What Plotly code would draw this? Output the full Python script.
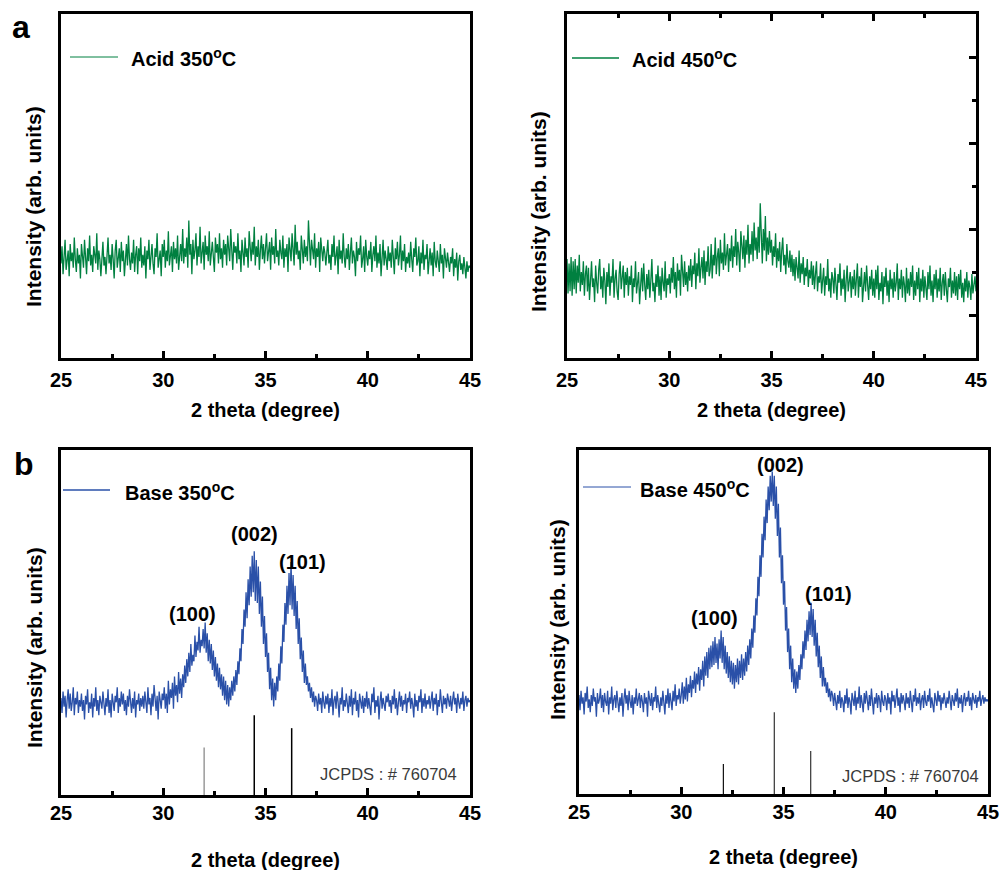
import plotly.graph_objects as go

# ---------------- data (arbitrary intensity units) ----------------
# each series is sampled every 0.05 degree from 25 to 45 (2 theta)
acid_350 = [
    44, 52, 39, 48, 55, 41, 47, 50, 38, 53, 45, 49, 42, 56, 46, 40, 51, 44, 48, 37,
    53, 46, 42, 55, 49, 39, 51, 45, 57, 43, 48, 40, 52, 47, 44, 58, 41, 50, 46, 38,
    49, 54, 43, 47, 39, 52, 56, 44, 48, 41, 53, 46, 37, 50, 55, 42, 47, 51, 40, 54,
    45, 50, 38, 47, 53, 43, 57, 46, 41, 49, 44, 55, 40, 48, 52, 39, 51, 45, 56, 42,
    48, 43, 52, 37, 50, 46, 55, 41, 49, 53, 44, 39, 51, 47, 58, 42, 46, 50, 38, 53,
    47, 55, 42, 50, 45, 59, 43, 48, 52, 40, 54, 46, 51, 44, 57, 41, 49, 53, 45, 60,
    44, 51, 47, 56, 42, 64, 48, 53, 39, 55, 46, 50, 58, 43, 52, 47, 61, 44, 49, 54,
    41, 57, 48, 52, 45, 59, 43, 50, 54, 47, 40, 56, 49, 53, 44, 58, 46, 51, 42, 55,
    48, 53, 43, 57, 50, 45, 60, 47, 41, 54, 49, 52, 44, 58, 46, 50, 40, 55, 48, 43,
    56, 47, 51, 42, 59, 49, 45, 54, 48, 61, 43, 52, 47, 55, 41, 50, 57, 46, 53, 44,
    51, 58, 45, 49, 54, 41, 56, 48, 52, 44, 60, 47, 50, 43, 55, 49, 46, 57, 42, 51,
    47, 53, 40, 56, 49, 45, 58, 51, 43, 62, 48, 54, 46, 50, 41, 57, 49, 44, 55, 47,
    52, 45, 64, 48, 43, 55, 50, 46, 58, 42, 51, 47, 54, 40, 56, 48, 45, 52, 49, 43,
    50, 55, 44, 48, 41, 53, 47, 57, 43, 49, 52, 39, 55, 46, 50, 44, 58, 47, 42, 51,
    46, 53, 41, 49, 56, 44, 50, 47, 38, 54, 45, 51, 48, 57, 42, 46, 52, 40, 55, 47,
    43, 50, 46, 54, 40, 48, 52, 45, 57, 42, 49, 44, 53, 38, 47, 55, 43, 50, 46, 41,
    52, 45, 49, 42, 55, 47, 39, 51, 46, 54, 43, 48, 57, 41, 50, 45, 53, 40, 47, 44,
    49, 42, 54, 46, 40, 51, 47, 56, 43, 45, 52, 38, 49, 44, 55, 41, 48, 46, 53, 39,
    47, 51, 43, 49, 38, 54, 45, 42, 50, 46, 40, 53, 44, 48, 37, 51, 45, 42, 49, 43,
    40, 47, 44, 51, 38, 46, 42, 49, 36, 45, 48, 41, 44, 39, 47, 42, 37, 45, 40, 43,
    42,
]

acid_450 = [
    46, 30, 44, 31, 47, 29, 45, 32, 46, 30, 43, 35, 48, 31, 40, 34, 45, 29, 39, 43,
    31, 42, 27, 39, 45, 33, 37, 26, 43, 35, 30, 41, 46, 32, 38, 28, 42, 36, 25, 40,
    33, 44, 29, 38, 35, 46, 28, 37, 41, 31, 27, 39, 45, 32, 36, 43, 28, 40, 34, 42,
    29, 38, 34, 43, 26, 37, 33, 45, 30, 35, 40, 25, 36, 42, 31, 44, 34, 27, 39, 32,
    41, 28, 36, 46, 31, 35, 26, 39, 33, 43, 29, 38, 27, 42, 35, 31, 45, 28, 37, 34,
    39, 30, 42, 35, 47, 32, 40, 28, 44, 36, 41, 29, 48, 37, 33, 45, 34, 40, 31, 43,
    36, 46, 33, 43, 39, 49, 32, 44, 38, 51, 35, 42, 47, 37, 50, 34, 45, 40, 52, 38,
    41, 53, 37, 48, 43, 56, 39, 47, 51, 38, 55, 44, 49, 41, 58, 43, 47, 53, 40, 51,
    45, 57, 42, 52, 47, 60, 43, 54, 49, 40, 59, 50, 46, 57, 42, 55, 48, 62, 44, 53,
    48, 59, 45, 63, 50, 56, 46, 61, 49, 72, 53, 44, 60, 50, 66, 45, 56, 48, 59, 49,
    55, 43, 52, 47, 58, 42, 51, 45, 54, 40, 50, 56, 43, 48, 39, 53, 45, 42, 50, 40,
    48, 38, 46, 36, 47, 41, 37, 50, 35, 44, 39, 47, 34, 42, 38, 46, 33, 41, 37, 45,
    34, 43, 32, 39, 45, 31, 38, 35, 44, 30, 37, 42, 29, 38, 34, 46, 31, 37, 28, 40,
    37, 30, 42, 33, 27, 39, 35, 44, 29, 37, 32, 41, 26, 36, 43, 31, 35, 40, 28, 38,
    32, 41, 29, 36, 44, 28, 38, 33, 42, 26, 35, 40, 31, 43, 34, 27, 38, 32, 41, 29,
    37, 28, 41, 32, 43, 27, 35, 31, 40, 25, 38, 33, 42, 29, 36, 26, 41, 32, 37, 28,
    40, 31, 35, 44, 27, 37, 32, 41, 28, 38, 34, 26, 42, 30, 37, 29, 40, 33, 43, 27,
    36, 29, 40, 32, 42, 26, 37, 31, 41, 28, 38, 33, 27, 40, 32, 43, 29, 36, 26, 39,
    32, 41, 28, 37, 31, 42, 27, 35, 39, 29, 40, 32, 26, 37, 33, 42, 28, 36, 30, 40,
    29, 38, 27, 39, 32, 41, 28, 35, 26, 37, 31, 40, 28, 36, 33, 27, 39, 30, 35, 38,
    31,
]

base_350 = [
    45, 38, 48, 41, 46, 36, 44, 49, 40, 47, 39, 43, 50, 37, 45, 42, 48, 38, 44, 41,
    47, 39, 44, 35, 46, 42, 49, 38, 43, 40, 47, 36, 45, 41, 50, 39, 44, 37, 46, 42,
    40, 48, 43, 37, 45, 41, 49, 38, 44, 36, 47, 42, 39, 46, 43, 50, 38, 45, 41, 48,
    42, 47, 39, 44, 37, 46, 41, 49, 43, 38, 45, 40, 48, 36, 44, 42, 47, 39, 45, 41,
    46, 40, 48, 43, 38, 50, 42, 45, 37, 47, 41, 51, 44, 39, 46, 35, 48, 43, 40, 47,
    44, 50, 40, 47, 38, 53, 42, 49, 45, 52, 40, 55, 46, 51, 43, 57, 47, 54, 45, 56,
    50, 60, 52, 63, 55, 66, 57, 70, 60, 65, 62, 74, 64, 71, 67, 78, 66, 72, 69, 77,
    68, 80, 66, 75, 62, 72, 61, 70, 58, 67, 55, 64, 53, 61, 50, 59, 49, 56, 46, 55,
    44, 53, 42, 51, 41, 50, 44, 53, 46, 55, 48, 58, 51, 62, 56, 68, 62, 77, 70, 86,
    78, 94, 82, 100, 88, 106, 92, 111, 94, 113, 90, 109, 89, 106, 84, 99, 78, 92, 70, 83,
    64, 75, 57, 66, 49, 59, 44, 54, 41, 52, 44, 55, 48, 61, 53, 69, 61, 79, 71, 89,
    79, 97, 84, 103, 88, 108, 86, 102, 83, 97, 77, 90, 70, 82, 63, 73, 57, 67, 52, 61,
    51, 55, 48, 52, 45, 50, 43, 48, 41, 46, 44, 39, 47, 42, 45, 38, 48, 43, 40, 46,
    42, 47, 38, 45, 41, 49, 37, 44, 46, 40, 48, 43, 36, 45, 42, 50, 39, 44, 41, 47,
    43, 38, 46, 41, 49, 37, 45, 42, 48, 39, 44, 36, 47, 43, 40, 46, 38, 45, 41, 48,
    40, 45, 42, 37, 47, 43, 50, 38, 44, 41, 46, 35, 43, 48, 40, 45, 42, 39, 46, 43,
    47, 41, 44, 38, 46, 42, 49, 40, 45, 37, 43, 48, 41, 46, 39, 44, 42, 47, 38, 45,
    43, 48, 40, 45, 42, 36, 47, 41, 44, 39, 46, 43, 49, 38, 45, 41, 47, 40, 44, 42,
    46, 40, 44, 48, 39, 45, 42, 47, 37, 44, 41, 49, 43, 38, 46, 42, 45, 40, 47, 43,
    41, 46, 39, 44, 48, 42, 45, 38, 47, 43, 40, 45, 42, 48, 39, 44, 46, 41, 45, 43,
    44,
]

base_450 = [
    46, 39, 48, 42, 45, 37, 47, 43, 50, 40, 44, 38, 46, 41, 49, 43, 45, 36, 47, 42,
    44, 49, 40, 46, 38, 47, 43, 41, 48, 37, 45, 42, 50, 39, 44, 46, 40, 48, 43, 38,
    45, 41, 47, 36, 44, 49, 42, 46, 39, 48, 43, 40, 46, 37, 45, 42, 49, 41, 44, 47,
    40, 46, 43, 38, 47, 42, 45, 36, 48, 44, 41, 47, 39, 45, 43, 50, 40, 46, 42, 38,
    45, 41, 48, 43, 37, 46, 42, 49, 40, 47, 44, 39, 48, 43, 51, 41, 46, 44, 49, 42,
    46, 52, 42, 50, 44, 54, 43, 51, 47, 55, 45, 53, 49, 57, 47, 56, 51, 59, 48, 58,
    53, 62, 50, 64, 55, 66, 54, 68, 58, 69, 59, 71, 60, 73, 61, 70, 58, 72, 63, 76,
    61, 73, 58, 69, 56, 66, 54, 64, 52, 62, 51, 61, 49, 60, 52, 63, 51, 62, 54, 65,
    53, 63, 55, 66, 57, 69, 60, 72, 63, 77, 68, 83, 75, 91, 83, 101, 92, 111, 101, 121,
    110, 129, 118, 137, 126, 143, 132, 148, 136, 150, 134, 148, 128, 143, 120, 135, 110, 124, 98, 111,
    88, 99, 76, 87, 66, 77, 58, 69, 52, 63, 49, 58, 47, 57, 49, 60, 53, 65, 58, 71,
    63, 76, 67, 81, 71, 85, 74, 89, 73, 86, 69, 81, 64, 75, 59, 69, 54, 64, 50, 59,
    50, 54, 47, 52, 45, 49, 43, 48, 46, 41, 47, 44, 39, 46, 42, 48, 40, 45, 43, 38,
    46, 42, 49, 40, 45, 43, 37, 47, 44, 41, 48, 39, 45, 42, 50, 40, 46, 43, 38, 47,
    42, 48, 44, 39, 46, 41, 49, 43, 37, 45, 42, 47, 40, 46, 44, 38, 48, 43, 41, 46,
    44, 39, 47, 42, 45, 37, 48, 43, 46, 40, 44, 49, 41, 45, 38, 47, 42, 46, 43, 39,
    47, 42, 45, 40, 48, 44, 38, 46, 43, 49, 41, 45, 42, 47, 39, 44, 46, 40, 48, 43,
    41, 46, 43, 49, 40, 45, 42, 38, 47, 44, 41, 48, 43, 46, 39, 45, 42, 47, 44, 40,
    45, 42, 48, 43, 39, 46, 44, 41, 47, 43, 49, 40, 45, 42, 46, 38, 44, 47, 41, 45,
    43, 48, 41, 45, 39, 47, 44, 42, 46, 40, 45, 43, 48, 41, 44, 46, 42, 45, 43, 44,
    43,
]

# JCPDS #76-0704 reference lines (2 theta, drawn height)
jcpds_350_pos = [32.0, 34.45, 36.28]
jcpds_350_h = [22, 37, 31]
jcpds_450_pos = [32.06, 34.55, 36.33]
jcpds_450_h = [14, 38, 20]

peak_labels = ["(100)", "(002)", "(101)"]
series_names = ["Acid 350<sup>o</sup>C", "Acid 450<sup>o</sup>C",
                "Base 350<sup>o</sup>C", "Base 450<sup>o</sup>C"]
x_tick_vals = [25, 30, 35, 40, 45]
x_minor_vals = [27.5, 32.5, 37.5, 42.5]
y_major_450 = [20, 60, 100, 140]
y_minor_450 = [40, 80, 120]

# ---------------- styling ----------------
FONT = "Liberation Sans, Arial, sans-serif"
GREEN = "#008040"
BLUE = "#2a50a8"
W, H = 1000, 870


def px_x(p):
    return p / W


def px_y(p):
    return 1 - p / H


def grid(series):
    n = len(series)
    return [25 + 20 * i / (n - 1) for i in range(n)]


fig = go.Figure()

panels = [
    # (series, color, xaxis, yaxis, domain x px, domain y px, ticklabel standoff)
    (acid_350, GREEN, "x", "y", (61, 470), (14, 358), 2),
    (acid_450, GREEN, "x2", "y2", (567, 976), (14, 358), 2),
    (base_350, BLUE, "x3", "y3", (61, 470), (450, 795), -2),
    (base_450, BLUE, "x4", "y4", (579, 988), (450, 794), -2),
]

for s, col, xa, ya, _, _, _ in panels:
    fig.add_trace(go.Scatter(x=grid(s), y=s, mode="lines", xaxis=xa, yaxis=ya,
                             line=dict(color=col, width=1.3), showlegend=False,
                             hoverinfo="skip"))

# reference sticks
stick_sets = [
    (jcpds_350_pos, jcpds_350_h, "x3", "y3", ["#9a9a9a", "#000000", "#000000"], 1.5),
    (jcpds_450_pos, jcpds_450_h, "x4", "y4", ["#111111", "#333333", "#333333"], 1.2),
]
for pos, hs, xa, ya, cols, wd in stick_sets:
    for p, h, c in zip(pos, hs, cols):
        fig.add_trace(go.Scatter(x=[p, p], y=[0, h], mode="lines", xaxis=xa, yaxis=ya,
                                 line=dict(color=c, width=wd), showlegend=False,
                                 hoverinfo="skip"))

axis_common = dict(showline=True, linecolor="black", linewidth=3, mirror=True,
                   showgrid=False, zeroline=False, automargin=False)

layout = dict(width=W, height=H,
              margin=dict(l=0, r=0, t=0, b=0, autoexpand=False),
              paper_bgcolor="white", plot_bgcolor="white", showlegend=False,
              font=dict(family=FONT, color="black"))

for i, (_, _, xa, ya, dx, dy, so) in enumerate(panels):
    xk = "xaxis" if i == 0 else f"xaxis{i + 1}"
    yk = "yaxis" if i == 0 else f"yaxis{i + 1}"
    xaxis = dict(axis_common, domain=[px_x(dx[0]), px_x(dx[1])], anchor=ya,
                 range=[25, 45], tickmode="array", tickvals=x_tick_vals,
                 ticks="inside", ticklen=7, tickwidth=2.5, tickcolor="black",
                 ticklabelstandoff=so,
                 tickfont=dict(family=FONT, size=20, color="black", weight="bold"),
                 minor=dict(tickmode="array", tickvals=x_minor_vals, ticks="inside",
                            ticklen=4, tickwidth=2.5, tickcolor="black"))
    yaxis = dict(axis_common, domain=[px_y(dy[1]), px_y(dy[0])], anchor=xa,
                 range=[0, 160], showticklabels=False, ticks="")
    if i == 1:
        xaxis["mirror"] = "ticks"
        yaxis.update(side="right", ticks="inside", tickmode="array",
                     tickvals=y_major_450, ticklen=7, tickwidth=2.5, tickcolor="black",
                     minor=dict(tickmode="array", tickvals=y_minor_450, ticks="inside",
                                ticklen=4, tickwidth=2.5, tickcolor="black"))
    layout[xk] = xaxis
    layout[yk] = yaxis

fig.update_layout(**layout)

ann = []
bold20 = dict(family=FONT, size=20, color="black", weight="bold")

# axis titles
xt = [((61 + 470) / 2, 410), ((567 + 976) / 2, 410), ((61 + 470) / 2, 860), ((579 + 988) / 2, 857)]
for x, y in xt:
    ann.append(dict(text="2 theta (degree)", x=px_x(x), y=px_y(y), xref="paper", yref="paper",
                    showarrow=False, xanchor="center", yanchor="middle", font=bold20))
yt = [(33, 207), (539, 212), (34, 648), (557, 620)]
for x, y in yt:
    ann.append(dict(text="Intensity (arb. units)", x=px_x(x), y=px_y(y), xref="paper",
                    yref="paper", showarrow=False, textangle=-90, xanchor="center",
                    yanchor="middle", font=dict(family=FONT, size=21, color="black",
                                                weight="bold")))

# panel letters
for t, x, y in [("a", 21, 27), ("b", 24, 464)]:
    ann.append(dict(text=t, x=px_x(x), y=px_y(y), xref="paper", yref="paper",
                    showarrow=False, xanchor="center", yanchor="middle",
                    font=dict(family=FONT, size=32, color="black", weight="bold")))

# legends (line sample + label)
legends = [
    (70, 118, 57, 129, GREEN, 1.0),
    (572, 619, 58, 630, GREEN, 1.5),
    (63, 110, 490, 123, BLUE, 1.5),
    (583, 631, 487, 638, BLUE, 1.0),
]
shapes = []
for name, (x0, x1, y, tx, col, wd) in zip(series_names, legends):
    shapes.append(dict(type="line", xref="paper", yref="paper", x0=px_x(x0), x1=px_x(x1),
                       y0=px_y(y), y1=px_y(y), line=dict(color=col, width=wd)))
    ann.append(dict(text=name, x=px_x(tx), y=px_y(y + 1), xref="paper", yref="paper",
                    showarrow=False, xanchor="left", yanchor="middle", font=bold20))

# peak labels
label_pos_350 = [(31.45, 84), (34.44, 121), (36.83, 108)]
label_pos_450 = [(31.65, 82), (34.83, 153), (37.18, 93)]
for lab, (x, y) in zip(peak_labels, label_pos_350):
    ann.append(dict(text=lab, x=x, y=y, xref="x3", yref="y3", showarrow=False,
                    xanchor="center", yanchor="middle", font=bold20))
for lab, (x, y) in zip(peak_labels, label_pos_450):
    ann.append(dict(text=lab, x=x, y=y, xref="x4", yref="y4", showarrow=False,
                    xanchor="center", yanchor="middle", font=bold20))

# JCPDS text
for x, y in [(459, 774), (981, 776)]:
    ann.append(dict(text="JCPDS : # 760704", x=px_x(x), y=px_y(y), xref="paper", yref="paper",
                    showarrow=False, xanchor="right", yanchor="middle",
                    font=dict(family=FONT, size=16.5, color="#3a3a3a")))

fig.update_layout(annotations=ann, shapes=shapes)
fig.write_html("out.html", config={"displayModeBar": False},
               post_script="document.body.style.margin='0';")
